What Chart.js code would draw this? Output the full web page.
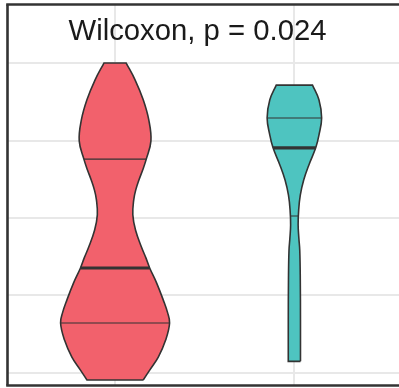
<!DOCTYPE html>
<html>
<head>
<meta charset="utf-8">
<script src="https://cdn.jsdelivr.net/npm/chart.js@4/dist/chart.umd.min.js"></script>
<style>
  html, body { margin: 0; padding: 0; overflow: hidden; background: #ffffff; }
  canvas { display: block; }
</style>
</head>
<body>
<canvas id="chart" width="399" height="388" style="width:399px;height:388px"></canvas>
<script>
// Axis grid positions
const yTicks = [20, 40, 60, 80, 100];
const xTicks = [1, 2];

// Group positions and colours
const groupPos = [1, 2];
const groupFill = ['#F2616C', '#4EC4C0'];
const outlineColor = '#333333';
const gridColor = '#E8E8E8';

// Violin outlines: y level (top to bottom) and half-width in x units
const redY    = [100, 95.6, 90.5, 85.3, 79.9, 75.2, 72.4, 69.8, 67.2, 64.7, 60.8, 56.9, 52.5, 49.7, 47.1, 43.2, 38.8, 35.7, 32.9, 28.5, 24.1, 20.8, 18.2];
const redHalf = [0.062, 0.112, 0.157, 0.188, 0.200, 0.174, 0.154, 0.133, 0.115, 0.104, 0.099, 0.114, 0.147, 0.172, 0.193, 0.232, 0.269, 0.292, 0.304, 0.282, 0.241, 0.194, 0.157];
const tealY    = [94.3, 90.5, 85.8, 81.4, 78.1, 73.7, 69.8, 65.9, 62.1, 58.2, 54.8, 51.7, 44.0, 33.7, 23.0];
const tealHalf = [0.101, 0.137, 0.152, 0.137, 0.119, 0.081, 0.052, 0.033, 0.024, 0.021, 0.025, 0.030, 0.033, 0.034, 0.034];

// Quartiles (25%, 50%, 75%)
const redQuant  = [32.9, 47.1, 75.2];
const tealQuant = [60.5, 78.1, 85.8];

// Test annotation
const statLabel = 'Wilcoxon, p = 0.024';
const statLabelAt = { x: 1.46, y: 105.9 };

// Build a closed outline; corner points are repeated so the spline keeps them sharp
function outline(center, ys, halves) {
  const n = ys.length;
  const pts = [];
  for (let i = n - 1; i >= 0; i--) pts.push({ x: center + halves[i], y: ys[i] });
  pts.push({ x: center + halves[0], y: ys[0] });
  pts.push({ x: center - halves[0], y: ys[0] });
  for (let i = 0; i < n; i++) pts.push({ x: center - halves[i], y: ys[i] });
  pts.push({ x: center - halves[n - 1], y: ys[n - 1] });
  pts.push({ x: center + halves[n - 1], y: ys[n - 1] });
  return pts;
}

// Half-width of a violin at a given level (linear between outline levels)
function widthAt(ys, halves, y) {
  for (let i = 0; i < ys.length - 1; i++) {
    const a = ys[i], b = ys[i + 1];
    if (y <= a && y >= b) {
      const t = (a - y) / (a - b);
      return halves[i] + t * (halves[i + 1] - halves[i]);
    }
  }
  return halves[halves.length - 1];
}

function violinSet(center, ys, halves, color) {
  return {
    type: 'scatter',
    data: outline(center, ys, halves),
    showLine: true,
    fill: 'shape',
    backgroundColor: color,
    borderColor: outlineColor,
    borderWidth: 1.6,
    tension: 0.4,
    pointRadius: 0,
    pointHoverRadius: 0,
    order: 2
  };
}

function quantileSets(center, ys, halves, quants) {
  return quants.map((q, i) => {
    const w = widthAt(ys, halves, q);
    return {
      type: 'scatter',
      data: [{ x: center - w, y: q }, { x: center + w, y: q }],
      showLine: true,
      fill: false,
      borderColor: outlineColor,
      borderWidth: i === 1 ? 3.2 : 1.1,
      pointRadius: 0,
      pointHoverRadius: 0,
      order: 1
    };
  });
}

const datasets = [
  violinSet(groupPos[0], redY, redHalf, groupFill[0]),
  violinSet(groupPos[1], tealY, tealHalf, groupFill[1]),
  ...quantileSets(groupPos[0], redY, redHalf, redQuant),
  ...quantileSets(groupPos[1], tealY, tealHalf, tealQuant)
];

// Annotation text and the panel frame (left, top, bottom; the panel runs on to the right)
const panelPlugin = {
  id: 'panel',
  afterDatasetsDraw(chart) {
    const { ctx, chartArea, scales, width } = chart;
    ctx.save();
    ctx.fillStyle = '#1a1a1a';
    ctx.font = '29.3px "Liberation Sans", Arial, sans-serif';
    ctx.textAlign = 'center';
    ctx.textBaseline = 'alphabetic';
    ctx.fillText(statLabel, scales.x.getPixelForValue(statLabelAt.x), scales.y.getPixelForValue(statLabelAt.y));
    ctx.strokeStyle = '#333333';
    ctx.lineWidth = 2.6;
    ctx.lineCap = 'butt';
    ctx.beginPath();
    ctx.moveTo(chartArea.left - 1.3, chartArea.top);
    ctx.lineTo(width, chartArea.top);
    ctx.stroke();
    ctx.beginPath();
    ctx.moveTo(chartArea.left, chartArea.top);
    ctx.lineTo(chartArea.left, chartArea.bottom);
    ctx.stroke();
    ctx.beginPath();
    ctx.moveTo(chartArea.left - 1.3, chartArea.bottom);
    ctx.lineTo(width, chartArea.bottom);
    ctx.stroke();
    ctx.restore();
  }
};

new Chart(document.getElementById('chart'), {
  type: 'scatter',
  data: { datasets },
  options: {
    responsive: false,
    devicePixelRatio: 1,
    animation: false,
    layout: { padding: { left: 7.5, right: 0, top: 4.5, bottom: 2.5 } },
    plugins: { legend: { display: false }, tooltip: { enabled: false }, title: { display: false } },
    scales: {
      x: {
        type: 'linear',
        min: 0.4,
        max: 2.5835,
        afterBuildTicks(s) { s.ticks = xTicks.map(v => ({ value: v })); },
        afterFit(s) { s.height = 0; },
        ticks: { display: false },
        border: { display: false },
        grid: { color: gridColor, lineWidth: 2, drawTicks: false }
      },
      y: {
        type: 'linear',
        min: 16.77,
        max: 115.1,
        afterBuildTicks(s) { s.ticks = yTicks.map(v => ({ value: v })); },
        afterFit(s) { s.width = 0; },
        ticks: { display: false },
        border: { display: false },
        grid: { color: gridColor, lineWidth: 2, drawTicks: false }
      }
    }
  },
  plugins: [panelPlugin]
});
</script>
</body>
</html>
